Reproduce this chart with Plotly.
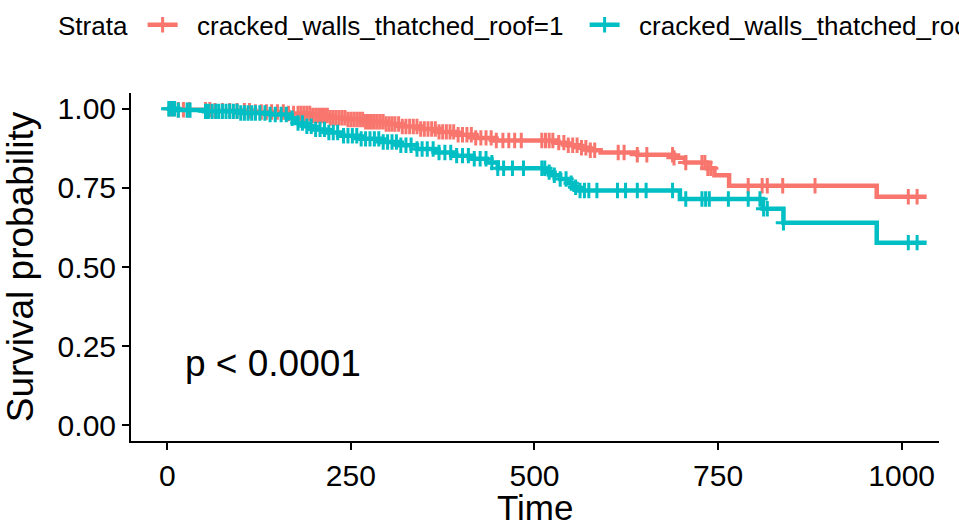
import numpy as np
import plotly.graph_objects as go

# ---------------- data ----------------
strata_names = ["cracked_walls_thatched_roof=1", "cracked_walls_thatched_roof=0"]
colors = ["#F8766D", "#00BFC4"]

# group 1 (red): step times and survival after each step
red_step_t = [0, 12, 60, 120, 165, 195, 220, 245, 270, 295, 320, 345, 370, 395, 420, 445,
              530, 545, 560, 575, 590, 640, 690, 705, 735, 745, 765, 966]
red_step_s = [1.0, 0.997, 0.994, 0.99, 0.985, 0.979, 0.972, 0.966, 0.959, 0.952, 0.944, 0.936,
              0.927, 0.918, 0.908, 0.900, 0.893, 0.885, 0.877, 0.869, 0.862, 0.855, 0.845,
              0.830, 0.812, 0.790, 0.757, 0.722]
red_censor_t = [3, 8, 15, 22, 30, 52, 58, 65, 75, 85, 95, 105, 112, 120, 128, 135, 142, 150,
                158, 165, 172, 178, 182, 186, 190, 194, 198, 202, 206, 210, 214, 218, 222, 226,
                230, 234, 238, 242, 246, 250, 254, 258, 262, 266, 270, 274, 278, 282, 286, 290,
                294, 298, 302, 306, 310, 315, 320, 325, 330, 335, 340, 345, 350, 355, 360, 365,
                370, 375, 380, 385, 390, 396, 402, 408, 414, 420, 427, 434, 441, 448, 457, 465,
                473, 482, 510, 515, 520, 525, 533, 540, 546, 552, 558, 564, 570, 576, 582, 614,
                622, 640, 653, 688, 690, 706, 728, 732, 736, 740, 791, 810, 817, 838, 882, 1009,
                1021]
red_end_t = 1034

# group 0 (cyan)
cyan_step_t = [0, 15, 50, 100, 140, 165, 175, 185, 200, 215, 235, 260, 290, 315, 340, 365, 390,
               415, 435, 450, 515, 525, 535, 545, 552, 558, 698, 811, 839, 966]
cyan_step_s = [1.0, 0.996, 0.992, 0.987, 0.982, 0.970, 0.955, 0.945, 0.935, 0.925, 0.915, 0.905,
               0.895, 0.885, 0.873, 0.862, 0.852, 0.842, 0.830, 0.812, 0.800, 0.790, 0.778,
               0.765, 0.752, 0.742, 0.715, 0.684, 0.640, 0.577]
cyan_censor_t = [2, 6, 10, 15, 27, 31, 52, 56, 61, 66, 70, 75, 80, 85, 90, 95, 100, 105, 110,
                 115, 120, 126, 133, 140, 147, 155, 162, 170, 178, 184, 190, 196, 202, 208, 214,
                 220, 226, 232, 240, 246, 252, 258, 264, 270, 276, 282, 288, 294, 300, 306, 312,
                 318, 325, 332, 340, 347, 354, 362, 370, 378, 386, 394, 402, 410, 418, 426, 434,
                 442, 450, 458, 470, 485, 510, 514, 520, 527, 535, 543, 550, 556, 562, 568, 574,
                 585, 613, 624, 640, 652, 688, 706, 728, 733, 738, 764, 791, 807, 812, 817, 839,
                 1009, 1021]
cyan_end_t = 1034

x_ticks = [0, 250, 500, 750, 1000]
y_ticks = [0, 0.25, 0.5, 0.75, 1.0]
pval_text = "p < 0.0001"
x_title = "Time"
y_title = "Survival probability"

FONT = "Liberation Sans, Arial, sans-serif"

groups = [
    (red_step_t, red_step_s, red_censor_t, red_end_t),
    (cyan_step_t, cyan_step_s, cyan_censor_t, cyan_end_t),
]

fig = go.Figure()
for i, (st, ss, ct, et) in enumerate(groups):
    st = np.asarray(st, float)
    ss = np.asarray(ss, float)
    xs = np.append(st, et)
    ys = np.append(ss, ss[-1])
    fig.add_trace(go.Scatter(x=xs, y=ys, mode="lines", line=dict(color=colors[i], width=4.5, shape="hv"),
                             showlegend=False, hoverinfo="skip"))
    ct = np.asarray(ct, float)
    idx = np.searchsorted(st, ct, side="right") - 1
    fig.add_trace(go.Scatter(x=ct, y=ss[idx], mode="markers",
                             marker=dict(symbol="cross-thin", size=11, line=dict(color=colors[i], width=3)),
                             showlegend=False, hoverinfo="skip"))

for i in range(2):
    fig.add_trace(go.Scatter(x=[None], y=[None], mode="lines+markers", name="&nbsp;&nbsp;" + strata_names[i],
                             line=dict(color=colors[i], width=4.5),
                             marker=dict(symbol="cross-thin", size=11, line=dict(color=colors[i], width=3))))

fig.add_annotation(x=22, y=0.195, text=pval_text, showarrow=False, xanchor="left", yanchor="middle",
                   font=dict(family=FONT, size=37, color="black"))
fig.add_annotation(xref="paper", yref="paper", x=0.5, y=-0.1925, text=x_title, showarrow=False,
                   xanchor="center", yanchor="middle", font=dict(family=FONT, size=35, color="black"))

axis_common = dict(showline=True, linecolor="black", linewidth=2, ticks="outside", ticklen=7,
                   tickwidth=2, tickcolor="black", showgrid=False, zeroline=False, automargin=False,
                   tickfont=dict(family=FONT, size=30, color="black"))

fig.update_layout(
    width=959, height=525,
    margin=dict(l=131, r=20, t=93, b=84, autoexpand=False),
    paper_bgcolor="white", plot_bgcolor="white",
    font=dict(family=FONT, color="black"),
    xaxis=dict(range=[-49.4, 1050.8], tickvals=x_ticks, ticktext=[str(v) for v in x_ticks],
               **axis_common),
    yaxis=dict(range=[-0.05, 1.05], tickvals=y_ticks, tickformat=".2f",
               title=dict(text=y_title, font=dict(family=FONT, size=37, color="black"), standoff=16),
               **axis_common),
    legend=dict(orientation="h", x=-0.0928, xanchor="left", y=1.196, yanchor="middle",
                title=dict(text="Strata&nbsp;", font=dict(family=FONT, size=26, color="black"), side="left"),
                font=dict(family=FONT, size=26, color="black"), entrywidth=397, entrywidthmode="pixels",
                bgcolor="rgba(0,0,0,0)"),
)

fig.write_html("out.html")
